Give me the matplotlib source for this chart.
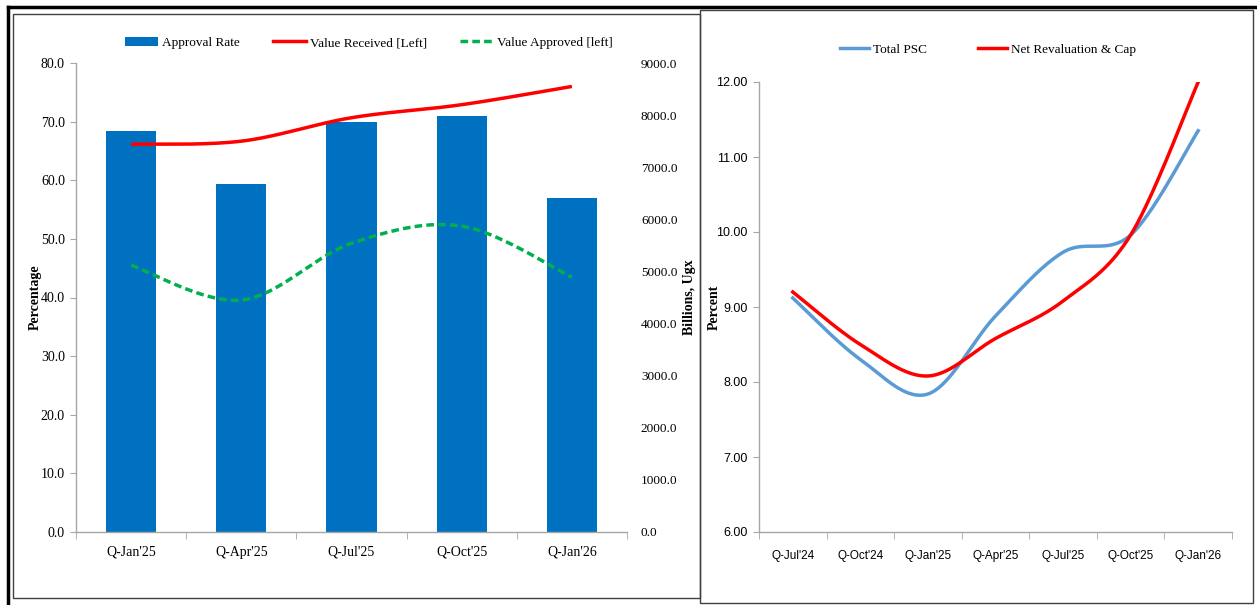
import numpy as np
import matplotlib
matplotlib.use('Agg')
import matplotlib.pyplot as plt
from matplotlib.patches import Rectangle, Patch
from matplotlib.lines import Line2D

# Left panel: loan applications
quarters_left = ["Q-Jan'25", "Q-Apr'25", "Q-Jul'25", "Q-Oct'25", "Q-Jan'26"]
approval_rate = [68.4, 59.4, 70.0, 71.0, 56.9]
value_received = [7440, 7500, 7950, 8200, 8550]
value_approved = [5120, 4450, 5540, 5870, 4890]

# Right panel: private sector credit growth
quarters_right = ["Q-Jul'24", "Q-Oct'24", "Q-Jan'25", "Q-Apr'25", "Q-Jul'25", "Q-Oct'25", "Q-Jan'26"]
total_psc = [9.12, 8.30, 7.84, 8.88, 9.73, 9.96, 11.35]
net_revaluation = [9.20, 8.50, 8.08, 8.58, 9.08, 9.96, 12.00]

BAR_BLUE = '#0070C0'
RED = '#FF0000'
GREEN = '#00B050'
LIGHT_BLUE = '#5B9BD5'
AXIS_GREY = '#A6A6A6'
SERIF = 'Liberation Serif'
SANS = 'Liberation Sans'

W, H = 1257, 605


def smooth(x, y, steps=40):
    """Catmull-Rom curve through the points, like a spreadsheet 'smoothed line'."""
    pts = np.column_stack([x, y]).astype(float)
    pad = np.vstack([pts[0], pts, pts[-1]])
    out = []
    t = np.linspace(0, 1, steps)[:, None]
    for i in range(1, len(pad) - 2):
        p0, p1, p2, p3 = pad[i - 1], pad[i], pad[i + 1], pad[i + 2]
        seg = 0.5 * ((2 * p1) + (-p0 + p2) * t + (2 * p0 - 5 * p1 + 4 * p2 - p3) * t ** 2
                     + (-p0 + 3 * p1 - 3 * p2 + p3) * t ** 3)
        out.append(seg if i == 1 else seg[1:])
    out = np.vstack(out)
    return out[:, 0], out[:, 1]


def px_axes(x0, y0, x1, y1):
    return [x0 / W, (H - y1) / H, (x1 - x0) / W, (y1 - y0) / H]


def style_axis(ax):
    for s in ['top', 'right']:
        ax.spines[s].set_visible(False)
    for s in ['left', 'bottom']:
        ax.spines[s].set_color(AXIS_GREY)
        ax.spines[s].set_linewidth(1.0)


fig = plt.figure(figsize=(W / 100, H / 100), dpi=100)

# frames
fig.add_artist(Line2D([8 / W, 1], [1 - 7 / H, 1 - 7 / H], color='black', lw=2.5))
fig.add_artist(Line2D([8 / W, 8 / W], [0, 1 - 7 / H], color='black', lw=2.5))
fig.add_artist(Rectangle((13 / W, 1 - 598 / H), 687 / W, 584 / H, fill=False,
                         edgecolor='#404040', lw=1.0))
fig.add_artist(Rectangle((700 / W, 1 - 603 / H), 553 / W, 593 / H, fill=False,
                         edgecolor='#404040', lw=1.0))

# ---- left chart ----
ax = fig.add_axes(px_axes(76, 63, 627, 532))
xl = np.arange(len(quarters_left))
ax.bar(xl, approval_rate, width=0.455, color=BAR_BLUE, zorder=2)
ax.set_xlim(-0.5, len(quarters_left) - 0.5)
ax.set_ylim(0, 80)
ax.set_yticks(np.arange(0, 81, 10))
ax.set_yticklabels([f'{v:.1f}' for v in np.arange(0, 81, 10)], fontfamily=SERIF, fontsize=10)
ax.set_xticks(xl)
ax.set_xticklabels(quarters_left, fontfamily=SERIF, fontsize=10)
ax.set_xticks(np.arange(-0.5, len(quarters_left)), minor=True)
ax.tick_params(axis='x', which='major', length=0, pad=10)
ax.tick_params(axis='x', which='minor', length=5, color=AXIS_GREY)
ax.tick_params(axis='y', length=4, color=AXIS_GREY, pad=4)
style_axis(ax)
ax.set_ylabel('Percentage', fontfamily=SERIF, fontsize=10, fontweight='bold')
ax.yaxis.set_label_coords((42 - 76) / 551, 0.5)

ax2 = ax.twinx()
ax2.set_ylim(0, 9000)
ax2.set_yticks(np.arange(0, 9001, 1000))
ax2.set_yticklabels([f'{v:.1f}' for v in np.arange(0, 9001, 1000)], fontfamily=SERIF, fontsize=9.5)
ax2.tick_params(axis='y', length=0, pad=10)
for s in ax2.spines.values():
    s.set_visible(False)
sx, sy = smooth(xl, value_received)
ax2.plot(sx, sy, color=RED, lw=2.5, solid_capstyle='butt')
sx, sy = smooth(xl, value_approved)
ax2.plot(sx, sy, color=GREEN, lw=2.5, ls=(0, (2.2, 1.2)))
ax2.set_ylabel('Billions, Ugx', fontfamily=SERIF, fontsize=10, fontweight='bold')
ax2.yaxis.set_label_coords((683 - 76) / 551, 0.5)

handles = [Patch(facecolor=BAR_BLUE),
           Line2D([], [], color=RED, lw=2.5),
           Line2D([], [], color=GREEN, lw=2.5, ls=(0, (2.2, 1.2)))]
fig.legend(handles, ['Approval Rate', 'Value Received [Left]', 'Value Approved [left]'],
           loc='center', bbox_to_anchor=(369 / W, 1 - 43 / H), ncol=3, frameon=False,
           prop={'family': SERIF, 'size': 9.5}, handlelength=2.5, handletextpad=0.3,
           columnspacing=2.5)

# ---- right chart ----
bx = fig.add_axes(px_axes(759, 82, 1232, 532))
xr = np.arange(len(quarters_right))
sx, sy = smooth(xr, total_psc)
bx.plot(sx, sy, color=LIGHT_BLUE, lw=2.5)
sx, sy = smooth(xr, net_revaluation)
bx.plot(sx, sy, color=RED, lw=2.5)
bx.set_xlim(-0.5, len(quarters_right) - 0.5)
bx.set_ylim(6, 12)
bx.set_yticks(np.arange(6, 12.01, 1))
bx.set_yticklabels([f'{v:.2f}' for v in np.arange(6, 12.01, 1)], fontfamily=SANS, fontsize=9)
bx.set_xticks(xr)
bx.set_xticklabels(quarters_right, fontfamily=SANS, fontsize=8.5)
bx.set_xticks(np.arange(-0.5, len(quarters_right)), minor=True)
bx.tick_params(axis='x', which='major', length=0, pad=13)
bx.tick_params(axis='x', which='minor', length=5, color=AXIS_GREY)
bx.tick_params(axis='y', length=4, color=AXIS_GREY, pad=4)
style_axis(bx)
bx.set_ylabel('Percent', fontfamily=SERIF, fontsize=10, fontweight='bold')
bx.yaxis.set_label_coords((721 - 759) / 473, 0.5)

handles = [Line2D([], [], color=LIGHT_BLUE, lw=2.5), Line2D([], [], color=RED, lw=2.5)]
fig.legend(handles, ['Total PSC', 'Net Revaluation & Cap'],
           loc='center', bbox_to_anchor=(988 / W, 1 - 50 / H), ncol=2, frameon=False,
           prop={'family': SERIF, 'size': 9.5}, handlelength=2.2, handletextpad=0.3,
           columnspacing=3.8)

fig.savefig('out.png', dpi=100)
